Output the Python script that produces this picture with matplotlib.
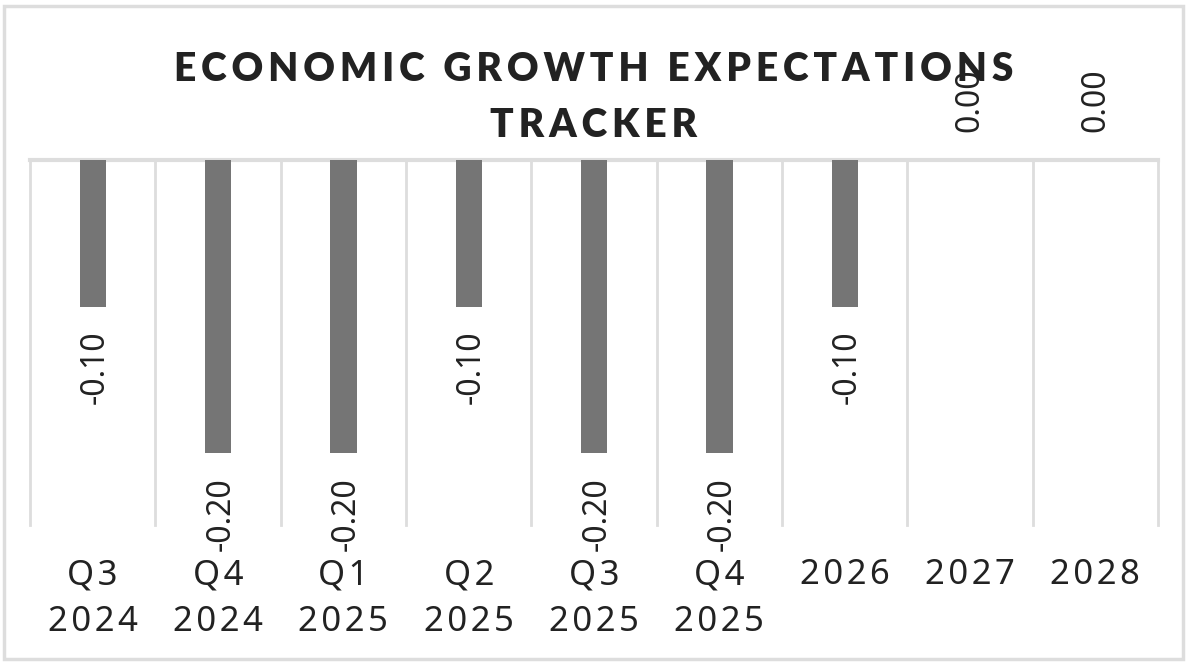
import matplotlib
matplotlib.use('Agg')
import matplotlib.pyplot as plt
import numpy as np
from matplotlib.patches import Rectangle

plt.rcParams['font.family'] = ['Noto Sans', 'DejaVu Sans']

quarters = ['Q3', 'Q4', 'Q1', 'Q2', 'Q3', 'Q4', '', '', '']
years = ['2024', '2024', '2025', '2025', '2025', '2025', '2026', '2027', '2028']
values = [-0.10, -0.20, -0.20, -0.10, -0.20, -0.20, -0.10, 0.00, 0.00]
title = 'ECONOMIC GROWTH EXPECTATIONS\nTRACKER'

bar_color = '#757575'
grid_color = '#dddddd'
text_color = '#222222'


def spaced(s, sep='\u200a'):
    return '\n'.join(sep.join(line) for line in s.split('\n'))


labels = []
for q, y in zip(quarters, years):
    labels.append(spaced(q + '\n' + y) if q else spaced(y))

fig = plt.figure(figsize=(11.88, 6.64), dpi=100)
ax = fig.add_axes([0.0253, 0.2093, 0.9495, 0.5497])

x = np.arange(len(values))
ax.bar(x, values, width=0.21, color=bar_color, zorder=3)

ax.set_xlim(-0.5, len(values) - 0.5)
ax.set_ylim(-0.249, 0)

# category separators and zero line
for b in np.arange(len(values) + 1) - 0.5:
    ax.axvline(b, color=grid_color, lw=2, zorder=1, clip_on=False)
ax.axhline(0, color=grid_color, lw=3, zorder=2, clip_on=False)

for spine in ax.spines.values():
    spine.set_visible(False)
ax.set_yticks([])
ax.set_xticks(x)
ax.set_xticklabels(labels, fontsize=25, color=text_color, linespacing=1.47)
ax.tick_params(axis='x', length=0, pad=24)

for xi, v in zip(x, values):
    if v < 0:
        ax.annotate('%.2f' % v, (xi, v), xytext=(2, -17), textcoords='offset points',
                    rotation=90, ha='center', va='top', fontsize=23, color=text_color,
                    zorder=5)
    else:
        ax.annotate('%.2f' % v, (xi, v), xytext=(0, 20), textcoords='offset points',
                    rotation=90, ha='center', va='bottom', fontsize=23, color=text_color,
                    annotation_clip=False, zorder=5)

fig.text(0.5, 0.853, spaced(title, '\u2009'), ha='center', va='center', fontsize=28,
         fontweight='heavy', family=['Lato', 'Roboto', 'DejaVu Sans'], color=text_color,
         linespacing=1.62)

fig.patches.append(Rectangle((0.003, 0.008), 0.993, 0.983, transform=fig.transFigure,
                             fill=False, edgecolor=grid_color, lw=2.5))

fig.savefig('out.png', dpi=100)
